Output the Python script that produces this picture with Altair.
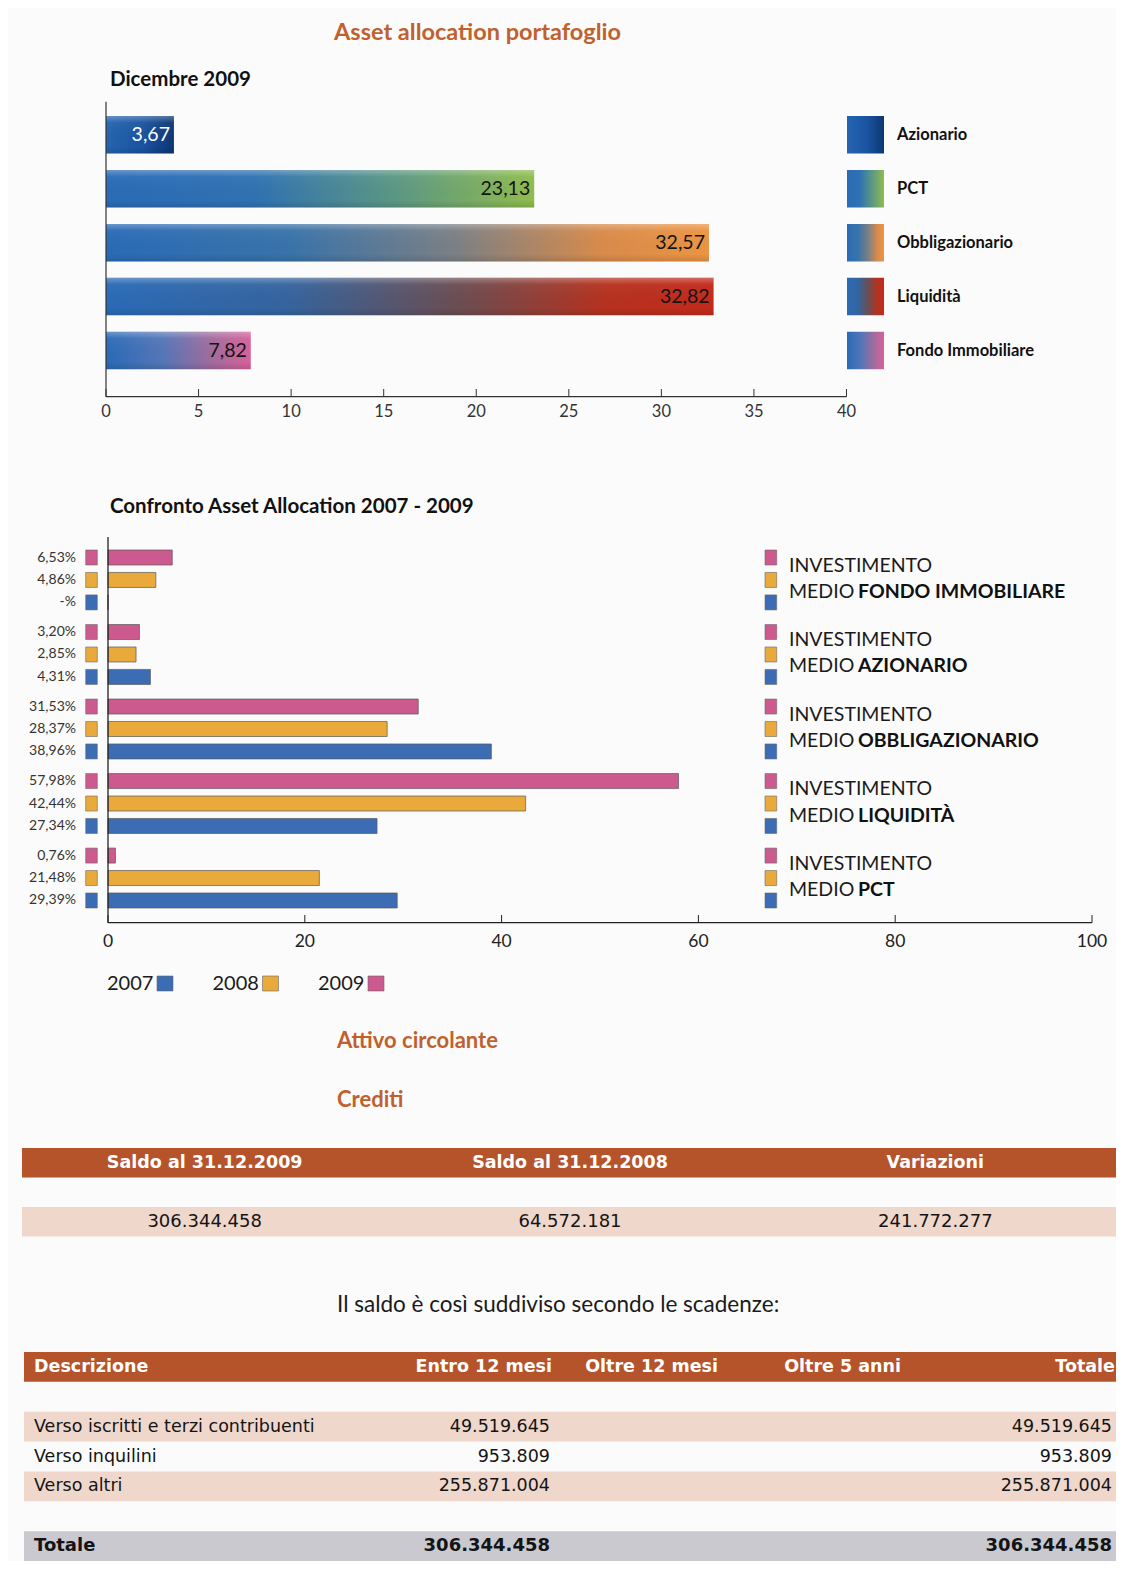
import altair as alt
import pandas as pd

# ------------------------------------------------------------------ data
page_title = "Asset allocation portafoglio"
chart1_title = "Dicembre 2009"
assets = ["Azionario", "PCT", "Obbligazionario", "Liquidità", "Fondo Immobiliare"]
alloc_2009 = [3.67, 23.13, 32.57, 32.82, 7.82]
alloc_labels = ["3,67", "23,13", "32,57", "32,82", "7,82"]
x1_ticks = [0, 5, 10, 15, 20, 25, 30, 35, 40]

chart2_title = "Confronto Asset Allocation 2007 - 2009"
groups = ["FONDO IMMOBILIARE", "AZIONARIO", "OBBLIGAZIONARIO", "LIQUIDITÀ", "PCT"]
years = ["2009", "2008", "2007"]          # order inside each group, top to bottom
inv_2009 = [6.53, 3.20, 31.53, 57.98, 0.76]
inv_2008 = [4.86, 2.85, 28.37, 42.44, 21.48]
inv_2007 = [0.0, 4.31, 38.96, 27.34, 29.39]
lab_2009 = ["6,53%", "3,20%", "31,53%", "57,98%", "0,76%"]
lab_2008 = ["4,86%", "2,85%", "28,37%", "42,44%", "21,48%"]
lab_2007 = ["-%", "4,31%", "38,96%", "27,34%", "29,39%"]
x2_ticks = [0, 20, 40, 60, 80, 100]
legend_years = ["2007", "2008", "2009"]
legend_line1 = "INVESTIMENTO"
legend_line2 = "MEDIO"

section1 = "Attivo circolante"
section2 = "Crediti"
t1_cols = ["Saldo al 31.12.2009", "Saldo al 31.12.2008", "Variazioni"]
t1_vals = ["306.344.458", "64.572.181", "241.772.277"]
split_text = "Il saldo è così suddiviso secondo le scadenze:"
t2_cols = ["Descrizione", "Entro 12 mesi", "Oltre 12 mesi", "Oltre 5 anni", "Totale"]
t2_rows = ["Verso iscritti e terzi contribuenti", "Verso inquilini", "Verso altri"]
t2_entro = ["49.519.645", "953.809", "255.871.004"]
t2_totale = ["49.519.645", "953.809", "255.871.004"]
t2_total_label = "Totale"
t2_total_entro = "306.344.458"
t2_total_tot = "306.344.458"

# ------------------------------------------------------------------ styles
ORANGE_T = "#c0612d"
BROWN = "#b5542b"
BAND = "#efd7cb"
GREY = "#c9c9cf"
BLUE2, ORANGE2, PINK2 = "#3b6cb4", "#e9aa3b", "#cd5a8e"
FONT = "Lato"
TFONT = "DejaVu Sans"

grad_stops = {
    "Azionario": [(0, "#2565b2"), (0.55, "#1a539f"), (1, "#0c3774")],
    "PCT": [(0, "#2a6bb7"), (0.35, "#3072b2"), (0.7, "#5f9a80"), (1, "#90bc4d")],
    "Obbligazionario": [(0, "#2a6bb7"), (0.3, "#3873aa"), (0.58, "#7c8085"),
                        (0.82, "#d88b4b"), (1, "#ec9442")],
    "Liquidità": [(0, "#2a6bb7"), (0.3, "#35649e"), (0.58, "#6b4d52"),
                  (0.82, "#b5321f"), (1, "#c4291b")],
    "Fondo Immobiliare": [(0, "#2a6bb7"), (0.4, "#5676b8"), (0.72, "#a06c9e"),
                          (1, "#d8619b")],
}


def hgrad(stops):
    return alt.Gradient(gradient="linear", x1=0, x2=1, y1=0, y2=0,
                        stops=[alt.GradientStop(offset=o, color=c) for o, c in stops])


def label(t, x, y, size, color="#111", weight="normal", font=FONT,
          align="left", baseline="middle"):
    return alt.Chart(pd.DataFrame({"t": [t]})).mark_text(
        align=align, baseline=baseline, font=font, fontSize=size,
        fontWeight=weight, color=color
    ).encode(text="t:N", x=alt.value(x), y=alt.value(y))


# ------------------------------------------------------------------ titles
titles = alt.layer(
    label(page_title, 326, 32, 23.5, ORANGE_T, "bold", baseline="alphabetic"),
    label(chart1_title, 102, 78, 20.5, "#111", "bold", baseline="alphabetic"),
    label(chart2_title, 102, 505, 20.5, "#111", "bold", baseline="alphabetic"),
    label(section1, 329, 1033, 22, ORANGE_T, "bold"),
    label(section2, 329, 1092, 22, ORANGE_T, "bold"),
    label(split_text, 329, 1297, 22.5, "#1a1a1a"),
)

# ------------------------------------------------------------------ chart 1
df1 = pd.DataFrame({"asset": assets, "value": alloc_2009, "label": alloc_labels})
x1 = alt.Scale(domain=[0, 40], range=[98, 838.5])
y1 = alt.Scale(domain=assets, range=[108, 361.3], paddingInner=0.304, paddingOuter=0)
X1 = alt.X("value:Q", scale=x1, axis=None)
Y1 = alt.Y("asset:N", scale=y1, axis=None)

c1_layers = []
for a in assets:
    base = alt.Chart(df1).transform_filter(alt.datum.asset == a)
    c1_layers.append(base.mark_bar(fill=hgrad(grad_stops[a]), strokeWidth=0)
                     .encode(x=X1, y=Y1))
    c1_layers.append(base.mark_rect(fill=hgrad(grad_stops[a]), strokeWidth=0)
                     .encode(y=Y1, x=alt.value(839), x2=alt.value(876)))

gloss = alt.Gradient(gradient="linear", x1=0, x2=0, y1=0, y2=1, stops=[
    alt.GradientStop(offset=0, color="rgba(255,255,255,0.30)"),
    alt.GradientStop(offset=0.18, color="rgba(255,255,255,0.04)"),
    alt.GradientStop(offset=0.8, color="rgba(0,0,0,0)"),
    alt.GradientStop(offset=1, color="rgba(0,0,0,0.12)"),
])
c1_layers.append(alt.Chart(df1).mark_bar(fill=gloss, strokeWidth=0).encode(x=X1, y=Y1))

c1_layers.append(alt.Chart(df1).mark_text(
    align="right", baseline="middle", dx=-4, font=FONT, fontSize=19.5
).encode(x=X1, y=Y1, text="label:N",
         color=alt.condition(alt.datum.asset == assets[0],
                             alt.value("white"), alt.value("#141414"))))

c1_layers.append(alt.Chart(df1).mark_text(
    align="left", baseline="middle", font=FONT, fontSize=16.5, fontWeight="bold",
    color="#111"
).encode(y=Y1, x=alt.value(889), text="asset:N"))

tk1 = pd.DataFrame({"t": x1_ticks, "lab": [str(t) for t in x1_ticks]})
ends1 = pd.DataFrame({"a": [x1_ticks[0]], "b": [x1_ticks[-1]]})
c1_layers += [
    alt.Chart(tk1).mark_rule(color="#333", strokeWidth=1).encode(
        x=alt.X("t:Q", scale=x1, axis=None), y=alt.value(381), y2=alt.value(388.7)),
    alt.Chart(tk1).mark_text(baseline="middle", font=FONT, fontSize=16.5, color="#333").encode(
        x=alt.X("t:Q", scale=x1, axis=None), y=alt.value(403.7), text="lab:N"),
    alt.Chart(ends1).mark_rule(color="#333", strokeWidth=1.2).encode(
        x=alt.X("a:Q", scale=x1, axis=None), x2="b:Q", y=alt.value(388.7)),
    alt.Chart(ends1).mark_rule(color="#333", strokeWidth=1.2).encode(
        x=alt.X("a:Q", scale=x1, axis=None), y=alt.value(93.7), y2=alt.value(388.7)),
]
chart1 = alt.layer(*c1_layers)

# ------------------------------------------------------------------ chart 2
rows = []
for yr, vals, labs in [("2009", inv_2009, lab_2009), ("2008", inv_2008, lab_2008),
                       ("2007", inv_2007, lab_2007)]:
    for g, v, l in zip(groups, vals, labs):
        rows.append({"group": g, "year": yr, "value": v, "label": l})
df2 = pd.DataFrame(rows)

x2 = alt.Scale(domain=[0, 100], range=[100, 1084])
y2 = alt.Scale(domain=groups, range=[542, 900], paddingInner=0.196, paddingOuter=0)
yo2 = alt.Scale(domain=years, paddingInner=0.332, paddingOuter=0)
c2 = alt.Scale(domain=legend_years, range=[BLUE2, ORANGE2, PINK2])
Y2 = alt.Y("group:N", scale=y2, axis=None)
YO2 = alt.YOffset("year:N", scale=yo2)
C2 = alt.Color("year:N", scale=c2, legend=None)

leg2 = pd.DataFrame({"group": groups, "l1": legend_line1, "l2": legend_line2,
                     "ya": years[0], "yb": years[1]})
tk2 = pd.DataFrame({"t": x2_ticks, "lab": [str(t) for t in x2_ticks]})
ends2 = pd.DataFrame({"a": [x2_ticks[0]], "b": [x2_ticks[-1]]})

c2_layers = [
    alt.Chart(df2).mark_bar(stroke="#5a5a5a", strokeWidth=0.7).encode(
        x=alt.X("value:Q", scale=x2, axis=None), y=Y2, yOffset=YO2, color=C2),
    alt.Chart(df2).mark_text(align="right", baseline="middle", font=FONT,
                             fontSize=14, color="#333").encode(
        x=alt.value(68), y=Y2, yOffset=YO2, text="label:N"),
    alt.Chart(df2).mark_rect(stroke="#6a6a6a", strokeWidth=0.6).encode(
        x=alt.value(77.7), x2=alt.value(89.3), y=Y2, yOffset=YO2, color=C2),
    alt.Chart(df2).mark_rect(stroke="#6a6a6a", strokeWidth=0.6).encode(
        x=alt.value(757), x2=alt.value(768.7), y=Y2, yOffset=YO2, color=C2),
    alt.Chart(leg2).mark_text(align="left", baseline="middle", dy=8, font=FONT,
                              fontSize=19.5, color="#1a1a1a").encode(
        x=alt.value(781), y=Y2, yOffset=alt.YOffset("ya:N", scale=yo2), text="l1:N"),
    alt.Chart(leg2).mark_text(align="left", baseline="middle", dy=12, font=FONT,
                              fontSize=19.5, color="#1a1a1a").encode(
        x=alt.value(781), y=Y2, yOffset=alt.YOffset("yb:N", scale=yo2), text="l2:N"),
    alt.Chart(leg2).mark_text(align="left", baseline="middle", dy=12, font=FONT,
                              fontSize=19.5, fontWeight="bold", color="#111").encode(
        x=alt.value(850), y=Y2, yOffset=alt.YOffset("yb:N", scale=yo2), text="group:N"),
    alt.Chart(tk2).mark_rule(color="#222", strokeWidth=1).encode(
        x=alt.X("t:Q", scale=x2, axis=None), y=alt.value(907), y2=alt.value(914.7)),
    alt.Chart(tk2).mark_text(baseline="middle", font=FONT, fontSize=17.5, color="#222").encode(
        x=alt.X("t:Q", scale=x2, axis=None), y=alt.value(933.7), text="lab:N"),
    alt.Chart(ends2).mark_rule(color="#222", strokeWidth=1.3).encode(
        x=alt.X("a:Q", scale=x2, axis=None), x2="b:Q", y=alt.value(914.7)),
    alt.Chart(ends2).mark_rule(color="#222", strokeWidth=1.3).encode(
        x=alt.X("a:Q", scale=x2, axis=None), y=alt.value(529), y2=alt.value(914.7)),
]
chart2 = alt.layer(*c2_layers)

# bottom legend (2007 / 2008 / 2009)
leg_layers = []
for i, yr in enumerate(legend_years):
    col = [BLUE2, ORANGE2, PINK2][i]
    x0 = 99 + i * 105.5
    d = pd.DataFrame({"t": [yr]})
    leg_layers.append(alt.Chart(d).mark_text(
        align="left", baseline="middle", font=FONT, fontSize=20, color="#1a1a1a"
    ).encode(text="t:N", x=alt.value(x0), y=alt.value(976)))
    leg_layers.append(alt.Chart(d).mark_rect(color=col, stroke="#6a6a6a", strokeWidth=0.6).encode(
        x=alt.value(x0 + 50), x2=alt.value(x0 + 66), y=alt.value(968), y2=alt.value(983)))
legend_bottom = alt.layer(*leg_layers)

# ------------------------------------------------------------------ table 1
t1_row_keys = ["intestazione", "spazio", "valori"]
xt1 = alt.Scale(domain=t1_cols, range=[14, 1110], paddingInner=0, paddingOuter=0)
yt1 = alt.Scale(domain=t1_row_keys, range=[1140, 1228.5], paddingInner=0, paddingOuter=0)
shade = alt.Scale(domain=["hdr", "band", "tot"], range=[BROWN, BAND, GREY])
t1_bg = pd.DataFrame({"row": [t1_row_keys[0], t1_row_keys[2]], "shade": ["hdr", "band"]})
t1_head = pd.DataFrame({"col": t1_cols, "row": t1_row_keys[0], "text": t1_cols})
t1_body = pd.DataFrame({"col": t1_cols, "row": t1_row_keys[2], "text": t1_vals})
table1 = alt.layer(
    alt.Chart(t1_bg).mark_rect(strokeWidth=0).encode(
        x=alt.value(14), x2=alt.value(1108),
        y=alt.Y("row:N", scale=yt1, axis=None),
        color=alt.Color("shade:N", scale=shade, legend=None)),
    alt.Chart(t1_head).mark_text(baseline="middle", font=TFONT, fontSize=17.5,
                                 fontWeight="bold", color="white").encode(
        x=alt.X("col:N", scale=xt1, axis=None), y=alt.Y("row:N", scale=yt1, axis=None),
        text="text:N"),
    alt.Chart(t1_body).mark_text(baseline="middle", font=TFONT, fontSize=18,
                                 color="#141414").encode(
        x=alt.X("col:N", scale=xt1, axis=None), y=alt.Y("row:N", scale=yt1, axis=None),
        text="text:N"),
)

# ------------------------------------------------------------------ table 2
t2_row_keys = ["intestazione", "spazio1"] + t2_rows + ["spazio2", t2_total_label]
yt2 = alt.Scale(domain=t2_row_keys, range=[1344, 1553], paddingInner=0, paddingOuter=0)
Yt2 = alt.Y("row:N", scale=yt2, axis=None)
t2_bg = pd.DataFrame({
    "row": ["intestazione"] + [r for i, r in enumerate(t2_rows) if i % 2 == 0] + [t2_total_label],
    "shade": ["hdr"] + ["band" for i in range(len(t2_rows)) if i % 2 == 0] + ["tot"],
})
hdr_anchor = [(26, "left"), (544, "right"), (710, "right"), (893, "right"), (1107, "right")]

t2_layers = [alt.Chart(t2_bg).mark_rect(strokeWidth=0).encode(
    x=alt.value(16), x2=alt.value(1108), y=Yt2,
    color=alt.Color("shade:N", scale=shade, legend=None))]
for c, (ax, al) in zip(t2_cols, hdr_anchor):
    t2_layers.append(alt.Chart(pd.DataFrame({"row": ["intestazione"], "text": [c]})).mark_text(
        align=al, baseline="middle", font=TFONT, fontSize=17.5, fontWeight="bold",
        color="white").encode(x=alt.value(ax), y=Yt2, text="text:N"))

body = pd.DataFrame({"row": t2_rows, "desc": t2_rows, "entro": t2_entro, "tot": t2_totale})
for field, ax, al in [("desc", 26, "left"), ("entro", 542, "right"), ("tot", 1104, "right")]:
    t2_layers.append(alt.Chart(body).mark_text(
        align=al, baseline="middle", font=TFONT, fontSize=17.5, color="#141414"
    ).encode(x=alt.value(ax), y=Yt2, text=f"{field}:N"))

tot = pd.DataFrame({"row": [t2_total_label], "desc": [t2_total_label],
                    "entro": [t2_total_entro], "tot": [t2_total_tot]})
for field, ax, al in [("desc", 26, "left"), ("entro", 542, "right"), ("tot", 1104, "right")]:
    t2_layers.append(alt.Chart(tot).mark_text(
        align=al, baseline="middle", font=TFONT, fontSize=18, fontWeight="bold",
        color="#141414").encode(x=alt.value(ax), y=Yt2, text=f"{field}:N"))
table2 = alt.layer(*t2_layers)

# ------------------------------------------------------------------ page
chart = alt.layer(
    titles, chart1, chart2, legend_bottom, table1, table2
).resolve_scale(
    x="independent", y="independent", color="independent"
).properties(
    width=1108, height=1553, padding=0,
    autosize=alt.AutoSizeParams(type="none"),
    background="#fbfbfb",
).configure_view(stroke=None)

chart.save("out.html", embed_options={"renderer": "svg", "actions": False})
